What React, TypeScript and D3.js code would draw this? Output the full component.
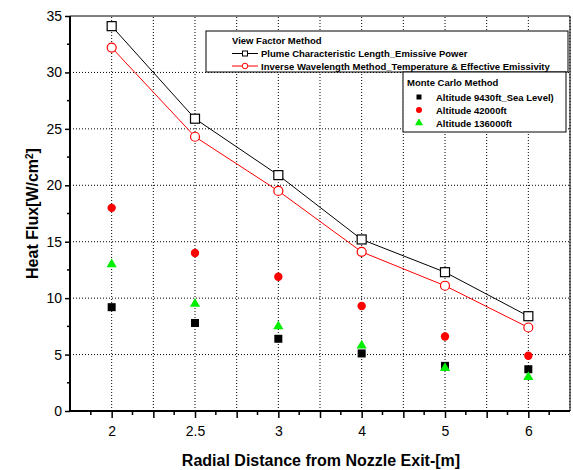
import { useEffect, useRef } from 'react';
import * as d3 from 'd3';

const categories = ['2', '2.5', '3', '4', '5', '6'];
const plumeLength = [34.1, 25.9, 20.9, 15.2, 12.3, 8.4];
const inverseWavelength = [32.2, 24.3, 19.5, 14.1, 11.1, 7.4];
const mcSeaLevel = [9.2, 7.8, 6.4, 5.1, 4.0, 3.7];
const mc42000 = [18.0, 14.0, 11.9, 9.3, 6.6, 4.9];
const mc136000 = [13.0, 9.5, 7.5, 5.8, 3.8, 3.0];
const yTicks = [0, 5, 10, 15, 20, 25, 30, 35];

const font = 'Arial, "Liberation Sans", sans-serif';

const App = () => {
    const svgRef = useRef<SVGSVGElement>(null);
    const width = 573;
    const height = 470;
    const margins = { top: 16, right: 3, bottom: 59, left: 70 };

    useEffect(() => {
        document.body.style.margin = '0';
        const svg = d3.select(svgRef.current);
        svg.selectAll('*').remove();

        const x = d3.scaleLinear()
            .domain([-0.5, categories.length - 0.5])
            .range([margins.left, width - margins.right]);
        const y = d3.scaleLinear()
            .domain([0, 35])
            .range([height - margins.bottom, margins.top]);

        const x0 = x.range()[0], x1 = x.range()[1];
        const y0 = y.range()[0], y1 = y.range()[1];

        // grid
        const halfSteps = d3.range(0, categories.length - 0.5 + 0.01, 0.5);
        svg.append('g')
            .selectAll('line')
            .data(halfSteps)
            .join('line')
            .attr('x1', d => x(d)).attr('x2', d => x(d))
            .attr('y1', y0).attr('y2', y1)
            .attr('stroke', '#000')
            .attr('stroke-width', 1)
            .attr('stroke-dasharray', '1,2');
        svg.append('g')
            .selectAll('line')
            .data(yTicks.slice(1, -1))
            .join('line')
            .attr('x1', x0).attr('x2', x1)
            .attr('y1', d => y(d)).attr('y2', d => y(d))
            .attr('stroke', '#000')
            .attr('stroke-width', 1)
            .attr('stroke-dasharray', '1,2');

        // frame
        svg.append('line').attr('x1', x0).attr('x2', x1).attr('y1', y1).attr('y2', y1)
            .attr('stroke', '#000').attr('stroke-width', 1);
        svg.append('line').attr('x1', x1).attr('x2', x1).attr('y1', y1).attr('y2', y0)
            .attr('stroke', '#000').attr('stroke-width', 1);

        // x axis
        const xAxis = d3.axisBottom(x)
            .tickValues(d3.range(-0.5, categories.length - 0.5 + 0.01, 0.5))
            .tickSize(7)
            .tickFormat(d => {
                const v = +d;
                return Number.isInteger(v) ? categories[v] : '';
            });
        const gx = svg.append('g')
            .attr('transform', `translate(0, ${y0})`)
            .call(xAxis);
        gx.selectAll('.tick')
            .filter(d => +(d as number) === -0.5 || +(d as number) === categories.length - 0.5)
            .select('line').remove();
        gx.append('g')
            .selectAll('line')
            .data(d3.range(-0.25, categories.length - 0.5, 0.5))
            .join('line')
            .attr('x1', d => x(d)).attr('x2', d => x(d))
            .attr('y1', 0).attr('y2', 4)
            .attr('stroke', '#000').attr('stroke-width', 1.5);
        gx.select('.domain').attr('stroke-width', 2).attr('d', `M${x0},0H${x1}`);
        gx.selectAll('.tick line').attr('stroke-width', 1.5);
        gx.selectAll('text')
            .attr('font-family', font)
            .attr('font-size', 14)
            .attr('dy', '1.1em')
            .attr('fill', '#000');

        // y axis
        const yAxis = d3.axisLeft(y).tickValues(yTicks).tickSize(5).tickPadding(3);
        const gy = svg.append('g')
            .attr('transform', `translate(${x0}, 0)`)
            .call(yAxis);
        gy.append('g')
            .selectAll('line')
            .data(d3.range(2.5, 35, 5))
            .join('line')
            .attr('x1', 0).attr('x2', -3)
            .attr('y1', d => y(d)).attr('y2', d => y(d))
            .attr('stroke', '#000').attr('stroke-width', 1.5);
        gy.select('.domain').attr('stroke-width', 2).attr('d', `M0,${y0}V${y1}`);
        gy.selectAll('.tick line').attr('stroke-width', 1.5);
        gy.selectAll('text')
            .attr('font-family', font)
            .attr('font-size', 14)
            .attr('fill', '#000');

        // lines
        const line = d3.line<number>()
            .x((_, i) => x(i))
            .y(d => y(d));
        svg.append('path')
            .attr('d', line(plumeLength))
            .attr('fill', 'none').attr('stroke', '#000').attr('stroke-width', 1);
        svg.append('path')
            .attr('d', line(inverseWavelength))
            .attr('fill', 'none').attr('stroke', '#ff0000').attr('stroke-width', 1);

        svg.append('g').selectAll('rect')
            .data(plumeLength)
            .join('rect')
            .attr('x', (_, i) => x(i) - 4.5).attr('y', d => y(d) - 4.5)
            .attr('width', 9).attr('height', 9)
            .attr('fill', '#fff').attr('stroke', '#000').attr('stroke-width', 1.2);
        svg.append('g').selectAll('circle')
            .data(inverseWavelength)
            .join('circle')
            .attr('cx', (_, i) => x(i)).attr('cy', d => y(d))
            .attr('r', 4.5)
            .attr('fill', '#fff').attr('stroke', '#ff0000').attr('stroke-width', 1.2);

        // monte carlo points (squares, then circles, then triangles on top)
        svg.append('g').selectAll('rect')
            .data(mcSeaLevel)
            .join('rect')
            .attr('x', (_, i) => x(i) - 4).attr('y', d => y(d) - 4)
            .attr('width', 8).attr('height', 8)
            .attr('fill', '#000');
        svg.append('g').selectAll('circle')
            .data(mc42000)
            .join('circle')
            .attr('cx', (_, i) => x(i)).attr('cy', d => y(d))
            .attr('r', 4.2)
            .attr('fill', '#ff0000');
        const triangle = d3.symbol().type(d3.symbolTriangle).size(45);
        svg.append('g').selectAll('path')
            .data(mc136000)
            .join('path')
            .attr('d', triangle)
            .attr('transform', (d, i) => `translate(${x(i)},${y(d)})`)
            .attr('fill', '#00ee00');

        // legend: view factor
        const lg = svg.append('g');
        lg.append('rect')
            .attr('x', 206).attr('y', 31).attr('width', 362).attr('height', 41)
            .attr('fill', '#fff').attr('stroke', '#000').attr('stroke-width', 1);
        lg.append('text').attr('x', 232).attr('y', 44)
            .attr('font-family', font).attr('font-size', 9.5).attr('font-weight', 'bold')
            .text('View Factor Method');
        const vfItems = [
            { label: 'Plume Characteristic Length_Emissive Power', color: '#000', shape: 'square' },
            { label: 'Inverse Wavelength Method_Temperature & Effective Emissivity', color: '#ff0000', shape: 'circle' },
        ];
        vfItems.forEach((item, i) => {
            const cy = 53.5 + i * 12.5;
            lg.append('line').attr('x1', 232).attr('x2', 258).attr('y1', cy).attr('y2', cy)
                .attr('stroke', item.color).attr('stroke-width', 1);
            if (item.shape === 'square') {
                lg.append('rect').attr('x', 242.5).attr('y', cy - 2.5).attr('width', 5).attr('height', 5)
                    .attr('fill', '#fff').attr('stroke', item.color);
            } else {
                lg.append('circle').attr('cx', 245).attr('cy', cy).attr('r', 2.8)
                    .attr('fill', '#fff').attr('stroke', item.color);
            }
            lg.append('text').attr('x', 261).attr('y', cy + 3.5)
                .attr('font-family', font).attr('font-size', 9.5).attr('font-weight', 'bold')
                .text(item.label);
        });

        // legend: monte carlo
        const mg = svg.append('g');
        mg.append('rect')
            .attr('x', 403).attr('y', 72).attr('width', 163).attr('height', 60)
            .attr('fill', '#fff').attr('stroke', '#000').attr('stroke-width', 1);
        mg.append('text').attr('x', 407).attr('y', 86)
            .attr('font-family', font).attr('font-size', 9.5).attr('font-weight', 'bold')
            .text('Monte Carlo Method');
        const mcItems = [
            { label: 'Altitude 9430ft_Sea Level)', color: '#000', shape: 'square' },
            { label: 'Altitude 42000ft', color: '#ff0000', shape: 'circle' },
            { label: 'Altitude 136000ft', color: '#00ee00', shape: 'triangle' },
        ];
        mcItems.forEach((item, i) => {
            const cy = 97 + i * 13;
            if (item.shape === 'square') {
                mg.append('rect').attr('x', 416.5).attr('y', cy - 2.5).attr('width', 5).attr('height', 5)
                    .attr('fill', item.color);
            } else if (item.shape === 'circle') {
                mg.append('circle').attr('cx', 419).attr('cy', cy).attr('r', 3)
                    .attr('fill', item.color);
            } else {
                mg.append('path').attr('d', d3.symbol().type(d3.symbolTriangle).size(28)())
                    .attr('transform', `translate(419,${cy})`)
                    .attr('fill', item.color);
            }
            mg.append('text').attr('x', 436).attr('y', cy + 3.5)
                .attr('font-family', font).attr('font-size', 9.5).attr('font-weight', 'bold')
                .text(item.label);
        });

        // axis titles
        svg.append('text')
            .attr('x', 321)
            .attr('y', 466)
            .attr('text-anchor', 'middle')
            .attr('font-family', font).attr('font-size', 16).attr('font-weight', 'bold')
            .text('Radial Distance from Nozzle Exit-[m]');

        const yt = svg.append('text')
            .attr('transform', `translate(38, ${(y0 + y1) / 2}) rotate(-90)`)
            .attr('text-anchor', 'middle')
            .attr('font-family', font).attr('font-size', 16).attr('font-weight', 'bold');
        yt.append('tspan').text('Heat Flux[W/cm');
        yt.append('tspan').attr('baseline-shift', 'super').attr('font-size', 10).text('2');
        yt.append('tspan').text(']');
    }, []);

    return (
        <>
            <div>
                <svg ref={svgRef} width={width} height={height} style={{ display: 'block' }}></svg>
            </div>
        </>
    );
};

export default App;
